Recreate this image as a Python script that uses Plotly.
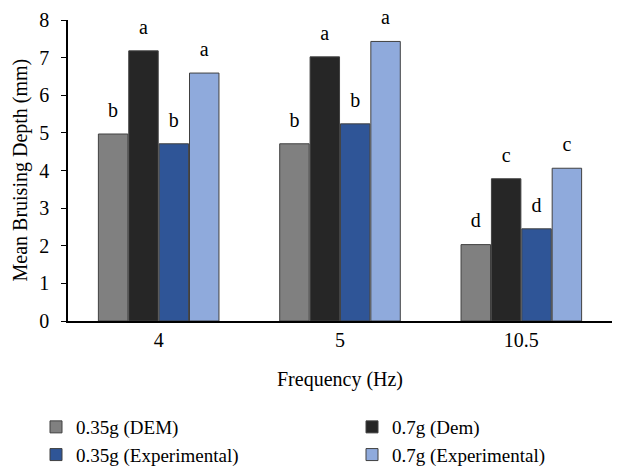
import plotly.graph_objects as go

categories = ["4", "5", "10.5"]
series_names = ["0.35g (DEM)", "0.7g (Dem)", "0.35g (Experimental)", "0.7g (Experimental)"]
dem_035 = [4.97, 4.71, 2.03]
dem_07 = [7.18, 7.02, 3.78]
exp_035 = [4.71, 5.24, 2.45]
exp_07 = [6.59, 7.43, 4.06]
letters_dem_035 = ["b", "b", "d"]
letters_dem_07 = ["a", "a", "c"]
letters_exp_035 = ["b", "b", "d"]
letters_exp_07 = ["a", "a", "c"]
y_ticks = [0, 1, 2, 3, 4, 5, 6, 7, 8]
y_title = "Mean Bruising Depth (mm)"
x_title = "Frequency (Hz)"

colors = ["#808080", "#262626", "#2F5597", "#8FAADC"]
values = [dem_035, dem_07, exp_035, exp_07]
letters = [letters_dem_035, letters_dem_07, letters_exp_035, letters_exp_07]
legend_ids = ["legend", "legend2", "legend", "legend2"]

FF = "Times New Roman, Liberation Serif, serif"
fnt = dict(family=FF, size=20, color="#000000")
leg_fnt = dict(family=FF, size=19, color="#000000")

fig = go.Figure()
for i, (name, vals, col) in enumerate(zip(series_names, values, colors)):
    fig.add_trace(go.Bar(
        x=categories, y=vals, name=name,
        marker=dict(color=col, line=dict(color="#404040", width=1)),
        offsetgroup=str(i), legend=legend_ids[i],
    ))
for i, (vals, labs) in enumerate(zip(values, letters)):
    fig.add_trace(go.Scatter(
        x=categories, y=vals, text=labs, mode="markers+text",
        marker=dict(size=18, opacity=0),
        textposition="top center",
        textfont=fnt,
        showlegend=False, hoverinfo="skip", offsetgroup=str(i),
        cliponaxis=False,
    ))

leg_common = dict(
    orientation="v", xref="container", yref="container",
    xanchor="left", yanchor="top", y=0.1266,
    font=leg_fnt, itemwidth=30, tracegroupgap=0, bgcolor="rgba(0,0,0,0)",
)

fig.update_layout(
    width=612, height=458,
    margin=dict(l=60, r=8, t=12, b=145, autoexpand=False),
    plot_bgcolor="white", paper_bgcolor="white",
    barmode="group", bargap=0.33, bargroupgap=0.03,
    scattermode="group", scattergap=0.33,
    font=fnt,
    xaxis=dict(
        showline=True, linecolor="#000000", linewidth=1.5,
        ticks="", showgrid=False,
        title=dict(text=x_title, font=fnt, standoff=22),
        tickfont=fnt,
    ),
    yaxis=dict(
        range=[0, 8], tickvals=y_ticks, showline=True, linecolor="#000000",
        linewidth=1.5, ticks="outside", ticklen=5, tickcolor="#000000",
        showgrid=False, zeroline=False, ticklabelstandoff=8,
        tickfont=fnt,
    ),
    legend=dict(x=28 / 612, **leg_common),
    legend2=dict(x=344 / 612, **leg_common),
    annotations=[dict(
        text=y_title, xref="paper", yref="paper", x=-48 / 544, y=0.5,
        xanchor="center", yanchor="middle", textangle=-90, showarrow=False,
        font=fnt,
    )],
)

fig.write_html("out.html")
